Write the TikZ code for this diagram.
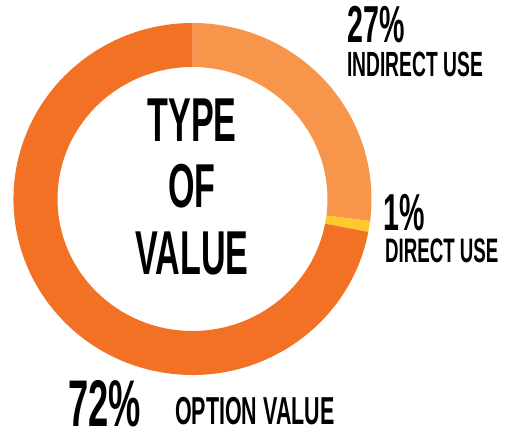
\documentclass[tikz,border=0pt]{standalone}
\usepackage{fontspec}
\newfontfamily\bebas{Liberation Sans}[FakeStretch=0.55]
\usepackage{tikz}

\definecolor{darkorange}{HTML}{F37124}
\definecolor{lightorange}{HTML}{F7964B}
\definecolor{useyellow}{HTML}{FFC82E}

\tikzset{
  txt/.style={inner sep=0pt, text depth=0pt, font=\bebas\bfseries},
  pct/.style={txt, anchor=base west},
  lbl/.style={txt, anchor=base west}
}

\begin{document}
\begin{tikzpicture}[x=1pt,y=1pt]
\useasboundingbox (0,0) rectangle (509,435);
\coordinate (c) at (192.5,236);

% ring segments
\fill[lightorange] ([shift={(c)}]90:179 and 176) arc[start angle=90, end angle=-7.2, x radius=179, y radius=176]
  -- ([shift={(c)}]-7.2:135 and 132) arc[start angle=-7.2, end angle=90, x radius=135, y radius=132] -- cycle;
\fill[useyellow] ([shift={(c)}]-7.2:179 and 176) arc[start angle=-7.2, end angle=-10.8, x radius=179, y radius=176]
  -- ([shift={(c)}]-10.8:135 and 132) arc[start angle=-10.8, end angle=-7.2, x radius=135, y radius=132] -- cycle;
\fill[darkorange] ([shift={(c)}]-10.8:179 and 176) arc[start angle=-10.8, end angle=-270, x radius=179, y radius=176]
  -- ([shift={(c)}]-270:135 and 132) arc[start angle=-270, end angle=-10.8, x radius=135, y radius=132] -- cycle;

% centre title
\node[txt, anchor=base, font=\fontsize{62}{62}\bebas\bfseries] (type) at (192,293) {TYPE};
\node[txt, anchor=base, font=\fontsize{62}{62}\bebas\bfseries] (of) at (192,227) {OF};
\node[txt, anchor=base, font=\fontsize{62}{62}\bebas\bfseries] (value) at (192,160) {VALUE};

% indirect use
\node[pct, font=\fontsize{52}{52}\bebas\bfseries] (indpct) at (347,392) {27\%};
\node[lbl, font=\fontsize{35}{35}\bebas\bfseries] (indlbl) at (347,358) {INDIRECT USE};

% direct use
\node[pct, font=\fontsize{52}{52}\bebas\bfseries] (dirpct) at (383,204) {1\%};
\node[lbl, font=\fontsize{34}{34}\bebas\bfseries] (dirlbl) at (385,172) {DIRECT USE};

% option value
\node[pct, font=\fontsize{66}{66}\bebas\bfseries] (optpct) at (68,8) {72\%};
\node[lbl, font=\fontsize{39}{39}\bebas\bfseries] (optlbl) at (175,10) {OPTION VALUE};
\end{tikzpicture}
\end{document}
